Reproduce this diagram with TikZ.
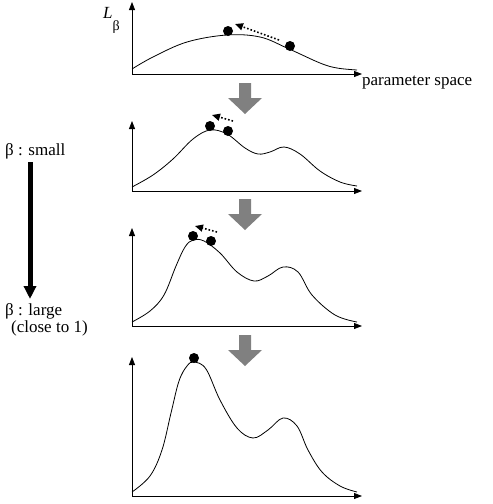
\documentclass[tikz,border=0pt]{standalone}
\usepackage{fontspec}
\setmainfont{Liberation Serif}
\usetikzlibrary{arrows.meta,positioning,calc}

\begin{document}
\begin{tikzpicture}[
        x=1pt, y=-1pt,
        axis/.style={-{Triangle[length=8pt,width=6pt]}, line width=0.8pt},
        curve/.style={line width=0.8pt},
        ball/.style={circle, fill=black, inner sep=0pt, minimum size=10pt},
        move/.style={-{Triangle[length=8pt,width=7pt]}, dotted, line width=1.6pt},
        down/.style={fill=black!50, draw=none},
        betaarrow/.style={-{Triangle[length=13pt,width=12pt]}, line width=5pt},
        lbl/.style={font=\fontsize{17}{20}\selectfont, inner sep=0pt}
    ]
    \useasboundingbox (0,0) rectangle (493,504);

    % axes of the four panels
    \foreach \yb/\yt in {74/2, 191/121, 326/228, 496/357} {
        \draw[axis] (132,\yb) -- (132,\yt);
        \draw[axis] (132,\yb) -- (362,\yb);
    }

    % L_beta for beta small ... large
    \draw[curve] plot[smooth, tension=0.6] coordinates {(132,69) (153,57) (187,42) (227,35) (260,37) (287,48) (320,63) (337,68) (357,70)};
    \draw[curve] plot[smooth, tension=0.6] coordinates {(132,187) (153,175) (173,159) (193,139) (210,130) (227,134) (245,148) (258,154) (270,152) (284,147) (300,154) (320,171) (340,182) (357,186)};
    \draw[curve] plot[smooth, tension=0.6] coordinates {(132,322) (150,311) (164,295) (176,266) (185,247) (193,240) (204,241) (220,253) (237,272) (254,281) (268,276) (283,267) (298,272) (312,295) (335,315) (357,322)};
    \draw[curve] plot[smooth, tension=0.6] coordinates {(132,492) (150,476) (162,450) (171,413) (179,381) (187,366) (194,362) (206,369) (220,400) (237,428) (253,438) (268,430) (283,418) (297,426) (308,450) (322,472) (340,486) (357,492)};

    % points moving uphill
    \node[ball] (p1a) at (228,31) {};
    \node[ball] (p1b) at (290,46) {};
    \node[ball] (p2a) at (210,126) {};
    \node[ball] (p2b) at (228,131) {};
    \node[ball] (p3a) at (193,236) {};
    \node[ball] (p3b) at (211,241) {};
    \node[ball] (p4a) at (194,358) {};

    \coordinate (m1s) at (279,40);
    \coordinate (m1e) at (235,24);
    \coordinate (m2s) at (233,121);
    \coordinate (m2e) at (212,115);
    \coordinate (m3s) at (217,232);
    \coordinate (m3e) at (195,226);
    \draw[move] (m1s) -- (m1e);
    \draw[move] (m2s) -- (m2e);
    \draw[move] (m3s) -- (m3e);

    % gray arrows between panels
    \foreach \t in {83,199,335} {
        \fill[down] (239,\t) -- (251,\t) -- (251,\t+15) -- (262,\t+15) -- (245,\t+31) -- (228,\t+15) -- (239,\t+15) -- cycle;
    }

    \node[lbl, anchor=base west] (lbeta) at (103,18) {\textit{L}\raisebox{-12pt}{\fontsize{14}{14}\selectfont β}};
    \node[lbl, anchor=base west] (pspace) at (362,85) {parameter space};

    \node[lbl, anchor=base west] (small) at (5,155) {β : small};
    \node[lbl, anchor=base west] (large) at (5,315) {β : large};
    \node[lbl, anchor=base west] (close) at (11,332) {(close to 1)};

    \coordinate (btop) at (30,162);
    \coordinate (bbot) at (30,299);
    \draw[betaarrow] (btop) -- (bbot);
\end{tikzpicture}
\end{document}
